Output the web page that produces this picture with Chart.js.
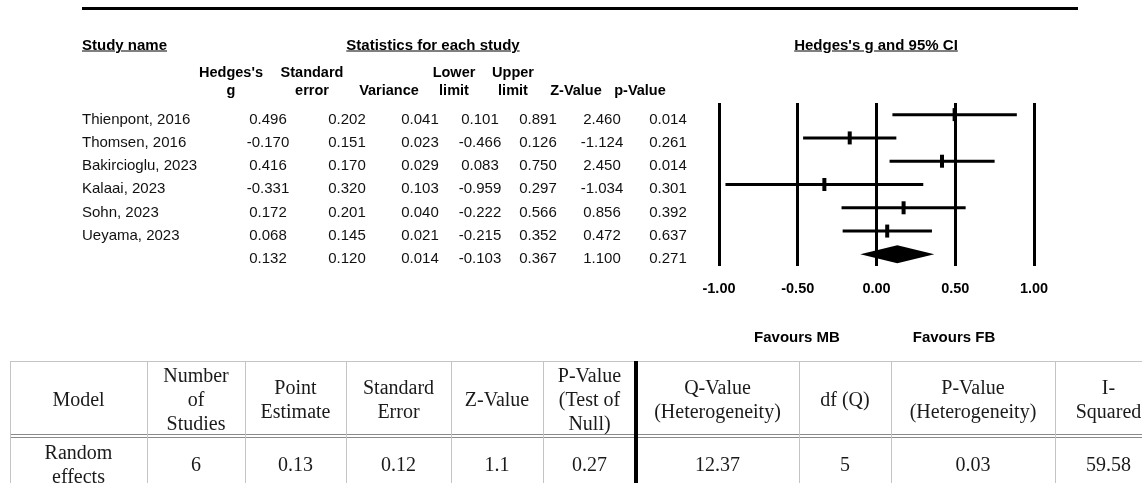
<!DOCTYPE html>
<html><head><meta charset="utf-8">
<script src="https://cdn.jsdelivr.net/npm/chart.js@4.4.0/dist/chart.umd.min.js"></script>
<style>
html,body{margin:0;padding:0;background:#fff;width:1142px;height:483px;overflow:hidden;}
body{position:relative;}
#c{position:absolute;left:0;top:0;}
.t{position:absolute;font-family:"Liberation Sans",Arial,sans-serif;font-size:15px;line-height:1;color:#111;white-space:nowrap;transform:translate(-50%,-50%);}
.t.l{transform:translate(0,-50%);}
.b{font-weight:bold;color:#000;}
.h{font-size:14.5px;}
.u{text-decoration:underline;}
.s{position:absolute;font-family:"Liberation Serif","Times New Roman",serif;font-size:20px;line-height:24px;color:#1a1a1a;text-align:center;white-space:pre;transform:translate(-50%,-50%);}
.ln{position:absolute;}
</style></head><body>
<canvas id="c" width="1142" height="483"></canvas>
<script>
// ---------- DATA ----------
const studyNames = ["Thienpont, 2016","Thomsen, 2016","Bakircioglu, 2023","Kalaai, 2023","Sohn, 2023","Ueyama, 2023",""];
const hedgesG   = [0.496,-0.170,0.416,-0.331,0.172,0.068,0.132];
const stdError  = [0.202,0.151,0.170,0.320,0.201,0.145,0.120];
const variance  = [0.041,0.023,0.029,0.103,0.040,0.021,0.014];
const lowerLim  = [0.101,-0.466,0.083,-0.959,-0.222,-0.215,-0.103];
const upperLim  = [0.891,0.126,0.750,0.297,0.566,0.352,0.367];
const zValue    = [2.460,-1.124,2.450,-1.034,0.856,0.472,1.100];
const pValue    = [0.014,0.261,0.014,0.301,0.392,0.637,0.271];
const summaryIndex = 6;
const xTicks = [-1.00,-0.50,0.00,0.50,1.00];
const statHeaders = [["Hedges's","g"],["Standard","error"],["","Variance"],["Lower","limit"],["Upper","limit"],["","Z-Value"],["","p-Value"]];
const modelHeaders = ["Model","Number\nof\nStudies","Point\nEstimate","Standard\nError","Z-Value","P-Value\n(Test of\nNull)","Q-Value\n(Heterogeneity)","df (Q)","P-Value\n(Heterogeneity)","I-\nSquared"];
const modelValues = ["Random\neffects","6","0.13","0.12","1.1","0.27","12.37","5","0.03","59.58"];

// ---------- LAYOUT ----------
const body = document.body;
function add(cls, text, x, y, extraStyle){
  const d = document.createElement('div');
  d.className = cls; d.textContent = text;
  d.style.left = x + 'px'; d.style.top = y + 'px';
  if (extraStyle) d.style.cssText += extraStyle;
  body.appendChild(d); return d;
}
function line(x, y, w, h, color){
  const d = document.createElement('div');
  d.className = 'ln';
  d.style.cssText += `left:${x}px;top:${y}px;width:${w}px;height:${h}px;background:${color};`;
  body.appendChild(d);
}
// top rule
line(82, 7, 996, 3, '#000');
// section titles
add('t l b u', 'Study name', 82, 44);
add('t b u', 'Statistics for each study', 433, 44);
add('t b u', "Hedges's g and 95% CI", 876, 44);
// column headers
const headCenters = [231, 312, 389, 454, 513, 576, 640];
statHeaders.forEach((h, i) => {
  if (h[0]) add('t b h', h[0], headCenters[i], 72);
  add('t b h', h[1], headCenters[i], 90);
});
// rows
const valCenters = [268, 347, 420, 480, 538, 602, 668];
const cols = [hedgesG, stdError, variance, lowerLim, upperLim, zValue, pValue];
studyNames.forEach((n, r) => {
  const y = 118 + r * 23.15;
  if (n) add('t l', n, 82, y);
  cols.forEach((c, ci) => add('t', c[r].toFixed(3), valCenters[ci], y));
});
// favours labels
add('t b', 'Favours MB', 797, 336);
add('t b', 'Favours FB', 954, 336);

// bottom table
const colEdges = [10, 147, 245, 346, 451, 543, 636, 799, 891, 1055, 1162];
const gridC = '#c4c4c4';
line(10, 361, 1132, 1, gridC);
line(10, 434, 1132, 1, '#8a8a8a');
line(10, 437, 1132, 1, '#8a8a8a');
colEdges.slice(0, -1).forEach((x, i) => {
  if (i === 6) line(x - 2, 361, 4, 122, '#000');
  else line(x, 361, 1, 122, gridC);
});
modelHeaders.forEach((h, i) => {
  const cx = (colEdges[i] + colEdges[i + 1]) / 2;
  add('s', h, cx, 399);
  const v = modelValues[i];
  add('s', v, cx, 464, 'line-height:24px;');
});

// ---------- CHART ----------
const ciDatasets = studyNames.slice(0, summaryIndex).map((n, i) => ({
  type: 'line', label: n,
  data: [{x: lowerLim[i], y: i}, {x: upperLim[i], y: i}],
  borderColor: '#000', borderWidth: 3, pointRadius: 0, borderCapStyle: 'butt', fill: false
}));
const pointDataset = {
  type: 'scatter', label: 'g',
  data: hedgesG.slice(0, summaryIndex).map((g, i) => ({x: g, y: i})),
  pointStyle: 'line', rotation: 90, pointRadius: 6.5, borderWidth: 4, borderColor: '#000', backgroundColor: '#000'
};
const diamondPlugin = {
  id: 'diamond',
  afterDatasetsDraw(chart) {
    const {ctx, scales: {x, y}} = chart;
    const yc = y.getPixelForValue(summaryIndex);
    const xl = x.getPixelForValue(lowerLim[summaryIndex]);
    const xm = x.getPixelForValue(hedgesG[summaryIndex]);
    const xr = x.getPixelForValue(upperLim[summaryIndex]);
    ctx.save();
    ctx.beginPath();
    ctx.moveTo(xl, yc); ctx.lineTo(xm, yc - 9); ctx.lineTo(xr, yc); ctx.lineTo(xm, yc + 9);
    ctx.closePath(); ctx.fillStyle = '#000'; ctx.fill();
    ctx.restore();
  }
};
new Chart(document.getElementById('c'), {
  type: 'scatter',
  data: { datasets: [...ciDatasets, pointDataset] },
  options: {
    responsive: false, animation: false, devicePixelRatio: 1,
    layout: { padding: { left: 719, right: 108, top: 103, bottom: 177 } },
    plugins: { legend: { display: false }, tooltip: { enabled: false } },
    scales: {
      x: {
        type: 'linear', min: xTicks[0], max: xTicks[xTicks.length - 1],
        afterBuildTicks: s => { s.ticks = xTicks.map(v => ({value: v})); },
        ticks: { callback: v => Number(v).toFixed(2), color: '#000', padding: 14, maxRotation: 0, autoSkip: false,
                 font: { family: '"Liberation Sans", Arial, sans-serif', size: 14.5, weight: 'bold' } },
        grid: { color: '#000', lineWidth: 3, drawTicks: false },
        border: { display: false },
        afterFit: s => { s.height = 40; }
      },
      y: { type: 'linear', min: -0.5, max: 6.5, reverse: true, display: false }
    }
  },
  plugins: [diamondPlugin]
});
</script>
</body></html>
